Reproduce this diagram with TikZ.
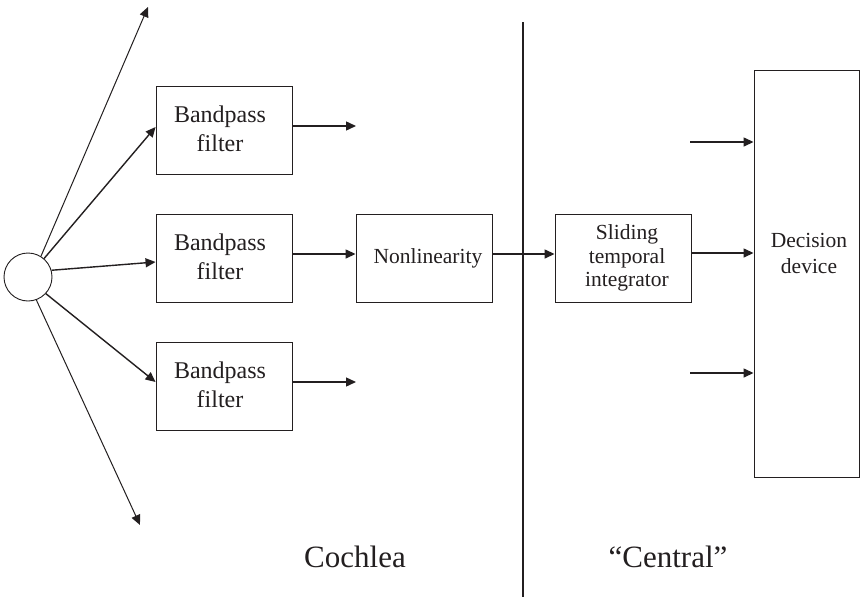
\documentclass[tikz,border=0pt]{standalone}
\usepackage{fontspec}
\setmainfont{Liberation Serif}
\usetikzlibrary{arrows.meta,calc}
\definecolor{ink}{HTML}{231F20}
\begin{document}
\begin{tikzpicture}[x=1pt,y=1pt,
  blk/.style={draw=ink,line width=0.9pt,minimum width=136pt,minimum height=88pt,inner sep=0pt,align=center,font=\fontsize{21.5}{24}\selectfont,text=ink},
  bpf/.style={blk,font=\fontsize{24}{29}\selectfont},
  arr/.style={draw=ink,line width=1.4pt,-{Triangle[length=10pt,width=9pt]}},
  thin/.style={draw=ink,line width=1pt,-{Triangle[length=10pt,width=9pt]}},
  dotarr/.style={draw=ink,line width=1.4pt,dash pattern=on 1.6pt off 0.4pt,-{Triangle[length=10pt,width=9pt]}},
  lbl/.style={font=\fontsize{31}{36}\selectfont,text=ink}]
\useasboundingbox (0,0) rectangle (860,-597);
\fill[white] (0,0) rectangle (860,-597);
\node[draw=ink,line width=0.9pt,circle,minimum size=48pt,inner sep=0pt] (c) at (28,-277) {};
\node[bpf] (bf1) at (224,-130) {};
\node[bpf] (bf2) at (224,-258) {};
\node[bpf] (bf3) at (224,-386) {};
\node[font=\fontsize{24}{29}\selectfont,text=ink,align=center] (bf1t) at (220,-129) {Bandpass\\filter};
\node[font=\fontsize{24}{29}\selectfont,text=ink,align=center] (bf2t) at (220,-257) {Bandpass\\filter};
\node[font=\fontsize{24}{29}\selectfont,text=ink,align=center] (bf3t) at (220,-385) {Bandpass\\filter};
\node[blk] (nl) at (424,-258) {};
\node[font=\fontsize{21.5}{24}\selectfont,text=ink] (nlt) at (428,-258) {Nonlinearity};
\node[blk] (sti) at (623,-258) {};
\node[font=\fontsize{21.5}{23.5}\selectfont,text=ink,align=center] (stit) at (627,-258) {Sliding\\temporal\\integrator};
\node[draw=ink,line width=0.9pt,minimum width=105pt,minimum height=407pt,inner sep=0pt] (dd) at (806.5,-273.5) {};
\node[font=\fontsize{21.5}{26}\selectfont,text=ink,align=center] (ddt) at (809,-253) {Decision\\device};
\coordinate (t1) at (148,-7);
\coordinate (t2) at (140,-525);
\coordinate (o1) at (356,-126);
\coordinate (o3) at (356,-382);
\coordinate (i1) at (690,-142);
\coordinate (i3) at (690,-373);
\coordinate (vtop) at (523,-22);
\coordinate (vbot) at (523,-597);
\coordinate (sout) at ([yshift=5pt]sti.east);
\draw[thin] (c.58) -- (t1);
\draw[arr] (c.49) -- ([yshift=3pt]bf1.west);
\draw[arr] (c.16) -- ([yshift=-4pt]bf2.west);
\draw[arr] (c.-43) -- ([yshift=4pt]bf3.west);
\draw[thin] (c.-70) -- (t2);
\draw[dotarr] ([yshift=4pt]bf1.east) -- (o1);
\draw[dotarr] ([yshift=4pt]bf3.east) -- (o3);
\draw[arr] ([yshift=4pt]bf2.east) -- ([yshift=4pt]nl.west);
\draw[dash pattern=on 1.6pt off 0.4pt,draw=ink,line width=1.2pt] (vtop) -- (vbot);
\draw[arr] ([yshift=4pt]nl.east) -- ([yshift=4pt]sti.west);
\draw[arr] (sout) -- (sout -| dd.west);
\draw[dotarr] (i1) -- (i1 -| dd.west);
\draw[dotarr] (i3) -- (i3 -| dd.west);
\node[lbl] (coch) at (355,-557) {Cochlea};
\node[lbl] (cent) at (668,-557) {“Central”};
\end{tikzpicture}
\end{document}
